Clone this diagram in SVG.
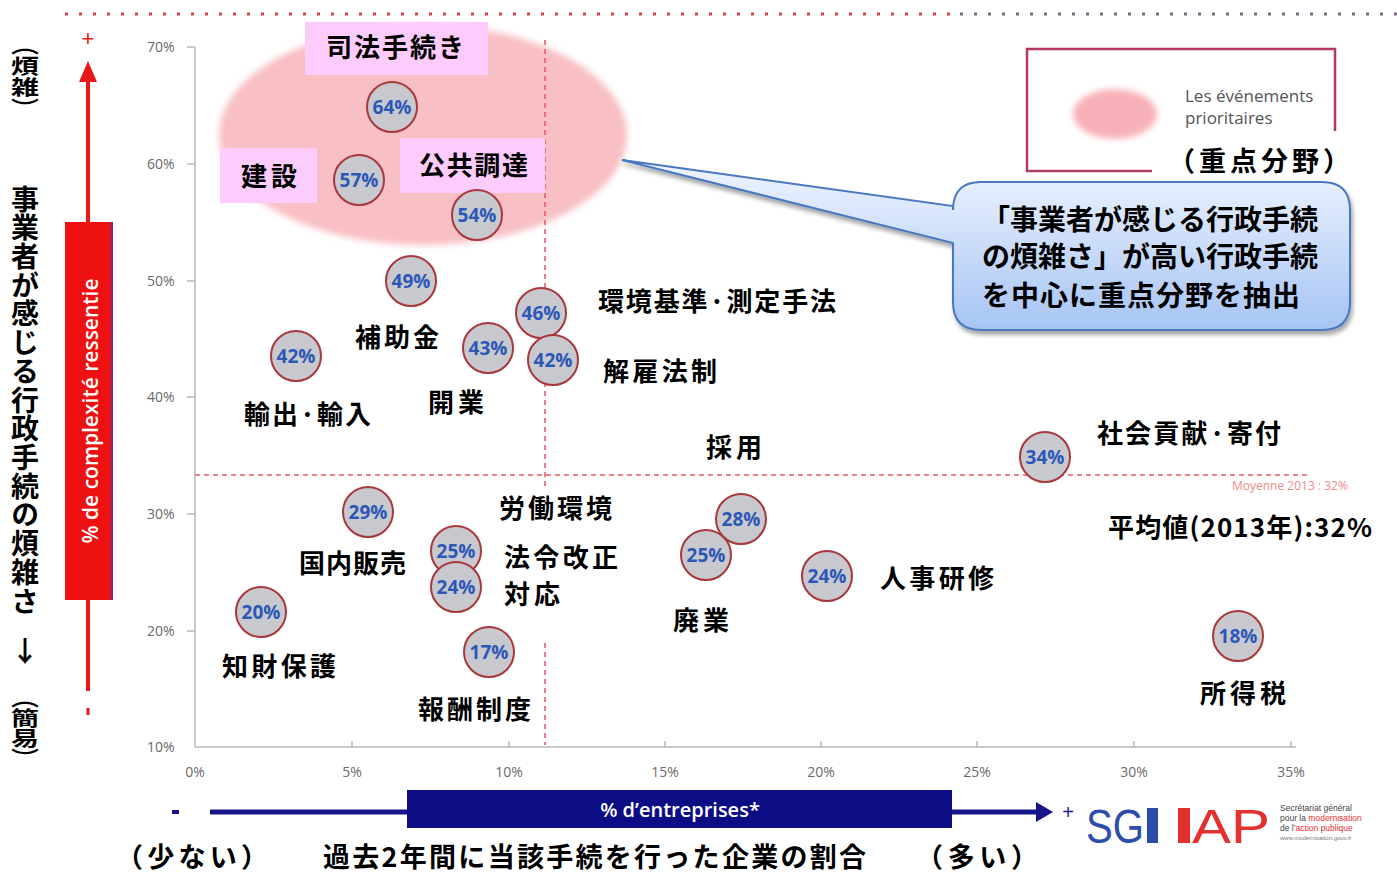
<svg xmlns="http://www.w3.org/2000/svg" width="1397" height="875" viewBox="0 0 1397 875">
<defs>
<style>
.jp{font-family:"Noto Sans CJK JP","Noto Sans CJK SC",sans-serif;font-weight:bold;fill:#000}
.lbl{font-size:26px}
.bub circle{fill:#c8c9ce;stroke:#a8383c;stroke-width:2}
.bub text{font-family:"Open Sans","Liberation Sans",sans-serif;font-weight:bold;font-size:19px;fill:#2c58b8;text-anchor:middle}
.pinkbox{fill:#fdcbfc}
.ax{font-family:"Open Sans","Liberation Sans",sans-serif;font-size:14px;fill:#6a6a6a}
.axm{text-anchor:middle}
.grid{stroke:#b8b8b8;stroke-width:1.5;fill:none}
.dash{stroke:#ec5a68;stroke-width:1.6;stroke-dasharray:5 4;fill:none}
.vert{writing-mode:vertical-rl}
</style>
<linearGradient id="cg" x1="0" y1="0" x2="0" y2="1">
<stop offset="0" stop-color="#f0f5ff"/><stop offset="1" stop-color="#a6c4f4"/>
</linearGradient>
<filter id="blur" x="-10%" y="-10%" width="120%" height="120%"><feGaussianBlur stdDeviation="3"/></filter>
<filter id="sh" x="-10%" y="-10%" width="130%" height="130%"><feDropShadow dx="2" dy="4" stdDeviation="2" flood-color="#000" flood-opacity="0.35"/></filter>
</defs>
<rect width="1397" height="875" fill="#fff"/>

<!-- top dotted line -->
<line x1="65" y1="14" x2="960" y2="14" stroke="#e0404c" stroke-width="3" stroke-dasharray="3 11"/>
<line x1="960" y1="14" x2="1397" y2="14" stroke="#7c6a86" stroke-width="3" stroke-dasharray="3 11"/>

<!-- priority ellipse -->
<ellipse cx="423" cy="135" rx="204" ry="110" fill="#f8bfc4" filter="url(#blur)"/>

<!-- axes -->
<g id="axes">
<line class="grid" x1="195" y1="47" x2="195" y2="747"/>
<line class="grid" x1="195" y1="747" x2="1296" y2="747"/>
<g class="grid">
<line x1="187" y1="47" x2="195" y2="47"/><line x1="187" y1="164" x2="195" y2="164"/><line x1="187" y1="281" x2="195" y2="281"/>
<line x1="187" y1="397" x2="195" y2="397"/><line x1="187" y1="514" x2="195" y2="514"/><line x1="187" y1="631" x2="195" y2="631"/>
<line x1="352" y1="741" x2="352" y2="747"/><line x1="509" y1="741" x2="509" y2="747"/><line x1="665" y1="741" x2="665" y2="747"/>
<line x1="821" y1="741" x2="821" y2="747"/><line x1="977" y1="741" x2="977" y2="747"/><line x1="1134" y1="741" x2="1134" y2="747"/><line x1="1291" y1="741" x2="1291" y2="747"/>
</g>
<text class="ax" x="147" y="52">70%</text>
<text class="ax" x="147" y="169">60%</text>
<text class="ax" x="147" y="286">50%</text>
<text class="ax" x="147" y="402">40%</text>
<text class="ax" x="147" y="519">30%</text>
<text class="ax" x="147" y="636">20%</text>
<text class="ax" x="147" y="752">10%</text>
<text class="ax axm" x="195" y="777">0%</text>
<text class="ax axm" x="352" y="777">5%</text>
<text class="ax axm" x="509" y="777">10%</text>
<text class="ax axm" x="665" y="777">15%</text>
<text class="ax axm" x="821" y="777">20%</text>
<text class="ax axm" x="977" y="777">25%</text>
<text class="ax axm" x="1134" y="777">30%</text>
<text class="ax axm" x="1291" y="777">35%</text>
<!-- average lines -->
<line class="dash" x1="545" y1="40" x2="545" y2="745"/>
<line class="dash" x1="195" y1="475" x2="1308" y2="475"/>
<rect x="492" y="489" width="133" height="150" fill="#fff"/>
<text x="1232" y="490" font-family="Open Sans, Liberation Sans, sans-serif" font-size="12" fill="#f08a8a">Moyenne 2013 : 32%</text>
</g>

<!-- left vertical axis -->
<g id="y-axis-title">
<text class="jp vert" x="25" y="35" font-size="28" textLength="83" lengthAdjust="spacingAndGlyphs">（煩雑）</text>
<text class="jp vert" x="25" y="185" font-size="28" textLength="430" lengthAdjust="spacing">事業者が感じる行政手続の煩雑さ</text>
<text class="jp" x="25" y="662" font-size="28" text-anchor="middle">↓</text>
<text class="jp vert" x="25" y="688" font-size="28" textLength="80" lengthAdjust="spacingAndGlyphs">（簡易）</text>
</g>

<g id="connectors">
<!-- red vertical arrow -->
<line x1="88" y1="80" x2="88" y2="691" stroke="#e81818" stroke-width="4"/>
<polygon points="79,82 97,82 88,61" fill="#e81818"/>
<text x="88" y="46" font-family="Liberation Sans, sans-serif" font-size="22" fill="#e81818" text-anchor="middle">+</text>
<rect x="86.5" y="708" width="3" height="7" fill="#e81818"/>
<!-- blue horizontal arrow -->
<line x1="210" y1="812" x2="1040" y2="812" stroke="#16168a" stroke-width="5"/>
<polygon points="1036,802 1053,812 1036,822" fill="#16168a"/>
<rect x="172" y="810" width="7" height="4" fill="#16168a"/>
<text x="1068" y="819" font-family="Liberation Sans, sans-serif" font-size="20" fill="#16168a" text-anchor="middle">+</text>
</g>

<g id="y-axis-box">
<rect x="65" y="222" width="47" height="378" fill="#ee1111"/>
<line x1="112" y1="222" x2="112" y2="600" stroke="#7a2a8a" stroke-width="2"/>
<text transform="translate(98,411) rotate(-90)" font-family="Open Sans, Liberation Sans, sans-serif" font-weight="600" font-size="21" fill="#fff" text-anchor="middle">% de complexité ressentie</text>
</g>

<g id="x-axis-box">
<rect x="407" y="790" width="545" height="38" fill="#0c0c84"/>
<text x="680" y="817" font-family="Open Sans, Liberation Sans, sans-serif" font-weight="600" font-size="20" fill="#fff" text-anchor="middle">% d’entreprises*</text>
</g>

<g id="x-axis-title">
<text class="jp" x="116" y="867" font-size="27" textLength="152" lengthAdjust="spacing">（少ない）</text>
<text class="jp" x="323" y="867" font-size="27" textLength="543" lengthAdjust="spacing">過去2年間に当該手続を行った企業の割合</text>
<text class="jp" x="916" y="867" font-size="27" textLength="122" lengthAdjust="spacing">（多い）</text>
</g>

<!-- legend -->
<g id="legend">
<rect x="1027" y="49" width="308" height="122" fill="#fff" stroke="#b03a64" stroke-width="2.5"/>
<ellipse cx="1115" cy="114" rx="42" ry="25" fill="#f8b0b8" filter="url(#blur)"/>
<text x="1185" y="102" font-family="Open Sans, Liberation Sans, sans-serif" font-size="17" fill="#555">Les événements</text>
<text x="1185" y="124" font-family="Open Sans, Liberation Sans, sans-serif" font-size="17" fill="#555">prioritaires</text>
<rect x="1152" y="131" width="192" height="48" fill="#fff"/>
<text class="jp" x="1168" y="171" font-size="27" textLength="182" lengthAdjust="spacing">（重点分野）</text>
</g>

<!-- callout -->
<g id="callout">
<path d="M981,182 H1322 Q1350,182 1350,210 V302 Q1350,330 1322,330 H981 Q953,330 953,302 V243 L622,160 L953,206 V210 Q953,182 981,182 Z" fill="url(#cg)" stroke="#4a78c0" stroke-width="2" filter="url(#sh)"/>
<text class="jp" x="982" y="230" font-size="28" textLength="336" lengthAdjust="spacing">「事業者が感じる行政手続</text>
<text class="jp" x="982" y="267" font-size="28" textLength="336" lengthAdjust="spacing">の煩雑さ」が高い行政手続</text>
<text class="jp" x="982" y="306" font-size="28" textLength="318" lengthAdjust="spacing">を中心に重点分野を抽出</text>
</g>

<!-- nodes -->
<g id="n-shiho">
<rect class="pinkbox" x="305" y="22" width="183" height="53"/>
<text class="jp lbl" x="326" y="57" textLength="138" lengthAdjust="spacing">司法手続き</text>
<g class="bub"><circle cx="392" cy="107" r="25"/><text x="392" y="114">64%</text></g>
</g>
<g id="n-kensetsu">
<rect class="pinkbox" x="220" y="148" width="97" height="55"/>
<text class="jp lbl" x="241" y="186" textLength="56" lengthAdjust="spacing">建設</text>
<g class="bub"><circle cx="359" cy="180" r="25"/><text x="359" y="187">57%</text></g>
</g>
<g id="n-kokyo">
<rect class="pinkbox" x="400" y="138" width="145" height="55"/>
<text class="jp lbl" x="419" y="175" textLength="109" lengthAdjust="spacing">公共調達</text>
<g class="bub"><circle cx="477" cy="215" r="25"/><text x="477" y="222">54%</text></g>
</g>
<g id="n-hojo">
<g class="bub"><circle cx="411" cy="281" r="25"/><text x="411" y="288">49%</text></g>
<text class="jp lbl" x="355" y="347" textLength="84" lengthAdjust="spacing">補助金</text>
</g>
<g id="n-kankyo">
<g class="bub"><circle cx="541" cy="313" r="25"/><text x="541" y="320">46%</text></g>
<text class="jp lbl" x="598" y="311" textLength="238" lengthAdjust="spacing">環境基準·測定手法</text>
</g>
<g id="n-kaiko">
<g class="bub"><circle cx="553" cy="360" r="25"/><text x="553" y="367">42%</text></g>
<text class="jp lbl" x="603" y="381" textLength="114" lengthAdjust="spacing">解雇法制</text>
</g>
<g id="n-kaigyo">
<g class="bub"><circle cx="488" cy="348" r="25"/><text x="488" y="355">43%</text></g>
<text class="jp lbl" x="428" y="412" textLength="56" lengthAdjust="spacing">開業</text>
</g>
<g id="n-yushutsu">
<g class="bub"><circle cx="296" cy="356" r="25"/><text x="296" y="363">42%</text></g>
<text class="jp lbl" x="244" y="424" textLength="127" lengthAdjust="spacing">輸出·輸入</text>
</g>
<g id="n-shakai">
<g class="bub"><circle cx="1045" cy="457" r="25"/><text x="1045" y="464">34%</text></g>
<text class="jp lbl" x="1097" y="443" textLength="184" lengthAdjust="spacing">社会貢献·寄付</text>
</g>
<g id="n-average">
<text class="jp lbl" x="1108" y="537" textLength="264" lengthAdjust="spacing">平均値(2013年):32%</text>
</g>
<g id="n-kokunai">
<g class="bub"><circle cx="368" cy="512" r="25"/><text x="368" y="519">29%</text></g>
<text class="jp lbl" x="299" y="573" textLength="107" lengthAdjust="spacing">国内販売</text>
</g>
<g id="n-saiyo">
<text class="jp lbl" x="706" y="457" textLength="56" lengthAdjust="spacing">採用</text>
<g class="bub"><circle cx="741" cy="519" r="25"/><text x="741" y="526">28%</text></g>
</g>
<g id="n-rodo">
<g class="bub"><circle cx="456" cy="551" r="25"/><text x="456" y="558">25%</text></g>
<text class="jp lbl" x="499" y="518" textLength="113" lengthAdjust="spacing">労働環境</text>
</g>
<g id="n-horei">
<g class="bub"><circle cx="456" cy="587" r="25"/><text x="456" y="594">24%</text></g>
<text class="jp lbl" x="504" y="567" textLength="114" lengthAdjust="spacing">法令改正</text>
<text class="jp lbl" x="504" y="604" textLength="56" lengthAdjust="spacing">対応</text>
</g>
<g id="n-haigyo">
<g class="bub"><circle cx="706" cy="555" r="25"/><text x="706" y="562">25%</text></g>
<text class="jp lbl" x="673" y="630" textLength="56" lengthAdjust="spacing">廃業</text>
</g>
<g id="n-jinji">
<g class="bub"><circle cx="827" cy="576" r="25"/><text x="827" y="583">24%</text></g>
<text class="jp lbl" x="880" y="588" textLength="114" lengthAdjust="spacing">人事研修</text>
</g>
<g id="n-chizai">
<g class="bub"><circle cx="261" cy="612" r="25"/><text x="261" y="619">20%</text></g>
<text class="jp lbl" x="222" y="676" textLength="114" lengthAdjust="spacing">知財保護</text>
</g>
<g id="n-hoshu">
<g class="bub"><circle cx="489" cy="652" r="25"/><text x="489" y="659">17%</text></g>
<text class="jp lbl" x="418" y="719" textLength="113" lengthAdjust="spacing">報酬制度</text>
</g>
<g id="n-shotoku">
<g class="bub"><circle cx="1238" cy="636" r="25"/><text x="1238" y="643">18%</text></g>
<text class="jp lbl" x="1200" y="703" textLength="86" lengthAdjust="spacing">所得税</text>
</g>

<!-- logo -->
<g id="logo">
<text x="1086" y="843" font-family="Liberation Sans, sans-serif" font-size="48" fill="#2d4ea8" textLength="58" lengthAdjust="spacingAndGlyphs">SG</text>
<rect x="1147" y="808" width="11" height="35" fill="#2d4ea8"/>
<rect x="1178" y="808" width="12" height="35" fill="#e53030"/>
<text x="1192" y="843" font-family="Liberation Sans, sans-serif" font-size="48" fill="#e53030" textLength="78" lengthAdjust="spacingAndGlyphs">AP</text>
<g font-family="Liberation Sans, sans-serif" font-size="8.5">
<text x="1280" y="811" fill="#444">Secrétariat général</text>
<text x="1280" y="821" fill="#444">pour la <tspan fill="#e53030">modernisation</tspan></text>
<text x="1280" y="831" fill="#444">de l’<tspan fill="#e53030">action publique</tspan></text>
<text x="1280" y="840" fill="#777" font-size="6">www.modernisation.gouv.fr</text>
</g>
</g>
</svg>
